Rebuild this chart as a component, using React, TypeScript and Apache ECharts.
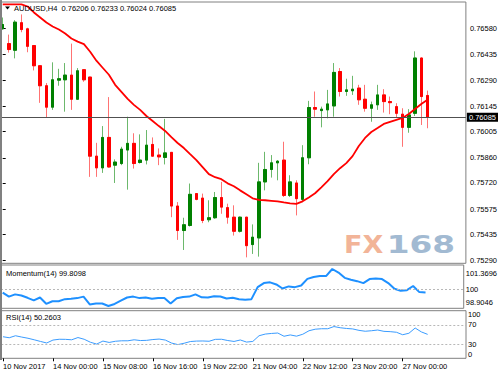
import React, { useEffect, useRef } from "react";
import * as echarts from "echarts";

const symbolName = "AUDUSD";
const timeframe = "H4";

const opens = [
  0.76576, 0.76494, 0.76457, 0.7661, 0.76576, 0.76483, 0.76371, 0.7626, 0.76141, 0.76291,
  0.76293, 0.76319, 0.76185, 0.76349, 0.76308, 0.75869, 0.75804, 0.75973, 0.75819, 0.75828,
  0.75903, 0.7594, 0.75834, 0.75847, 0.75934, 0.75875, 0.75862, 0.7589, 0.75592, 0.75456,
  0.75484, 0.75661, 0.75636, 0.75516, 0.75527, 0.75639, 0.75583, 0.7553, 0.75452, 0.7553,
  0.75378, 0.75415, 0.75726, 0.75795, 0.75832, 0.75847, 0.75651, 0.7572, 0.75629, 0.7586,
  0.76139, 0.76122, 0.76126, 0.76148, 0.76339, 0.76228, 0.76232, 0.76247, 0.76185, 0.76135,
  0.76154, 0.76209, 0.76172, 0.76144, 0.76102, 0.76029, 0.76107, 0.76414, 0.76206,
];
const highs = [
  0.76639, 0.76544, 0.76624, 0.76656, 0.76582, 0.76486, 0.76374, 0.76275, 0.7639, 0.76354,
  0.76386, 0.76494, 0.76358, 0.76352, 0.7631, 0.75943, 0.76036, 0.76197, 0.75851, 0.75921,
  0.76088, 0.75996, 0.7599, 0.76014, 0.75973, 0.75912, 0.76076, 0.75892, 0.75614, 0.75527,
  0.75717, 0.75664, 0.75661, 0.75624, 0.7567, 0.75726, 0.75605, 0.75596, 0.75534, 0.75532,
  0.7549, 0.75832, 0.75893, 0.75875, 0.75847, 0.75949, 0.75763, 0.75735, 0.7593, 0.76176,
  0.76228, 0.76144, 0.76237, 0.76386, 0.76358, 0.76299, 0.76315, 0.76265, 0.76265, 0.76172,
  0.76265, 0.76241, 0.762, 0.76163, 0.76135, 0.7613, 0.76451, 0.76416, 0.76233,
];
const lows = [
  0.76572, 0.76444, 0.76412, 0.76557, 0.76446, 0.76345, 0.76165, 0.76085, 0.76126, 0.7626,
  0.76116, 0.76126, 0.76182, 0.76282, 0.75754, 0.75754, 0.75776, 0.75805, 0.7572, 0.75819,
  0.75683, 0.758, 0.75828, 0.75823, 0.75865, 0.75819, 0.75823, 0.7553, 0.75404, 0.75348,
  0.75478, 0.75624, 0.75497, 0.75502, 0.75521, 0.75549, 0.75494, 0.75428, 0.75445, 0.75307,
  0.75326, 0.75311, 0.75679, 0.7575, 0.75735, 0.75642, 0.75642, 0.7554, 0.75614, 0.75824,
  0.76088, 0.76029, 0.76079, 0.76088, 0.762, 0.76204, 0.76209, 0.76154, 0.76116, 0.7606,
  0.76126, 0.76111, 0.76102, 0.76085, 0.75921, 0.75999, 0.76092, 0.76042, 0.76024,
];
const closes = [
  0.766, 0.76461, 0.76613, 0.76572, 0.76479, 0.76371, 0.7626, 0.76141, 0.76293, 0.76299,
  0.76319, 0.76185, 0.76343, 0.76293, 0.75869, 0.75804, 0.75973, 0.75809, 0.75836, 0.75908,
  0.7594, 0.75828, 0.75847, 0.7593, 0.75869, 0.75865, 0.75887, 0.75592, 0.75456, 0.75488,
  0.75657, 0.75629, 0.75512, 0.75527, 0.75639, 0.75586, 0.7553, 0.75452, 0.7553, 0.75372,
  0.75419, 0.75726, 0.75795, 0.75832, 0.75841, 0.75651, 0.75726, 0.75633, 0.7586, 0.76139,
  0.7613, 0.7613, 0.76159, 0.76334, 0.76228, 0.76237, 0.76241, 0.76182, 0.76135, 0.76154,
  0.76209, 0.76172, 0.76166, 0.76107, 0.76029, 0.76098, 0.76414, 0.762, 0.76085,
];
const movingAverage = [
  0.76712, 0.76712, 0.76712, 0.76712, 0.767, 0.76667, 0.76639, 0.76611, 0.76589, 0.76572,
  0.7655, 0.76522, 0.76505, 0.76491, 0.76449, 0.76399, 0.7636, 0.76321, 0.76265, 0.76226,
  0.76187, 0.76154, 0.76126, 0.76092, 0.76064, 0.76036, 0.76009, 0.75975, 0.75942, 0.75914,
  0.7588, 0.75847, 0.75808, 0.75769, 0.75752, 0.75741, 0.75718, 0.75702, 0.75679, 0.75657,
  0.75635, 0.75626, 0.75624, 0.75621, 0.75618, 0.75612, 0.75607, 0.75604, 0.75618, 0.7564,
  0.75663, 0.75696, 0.7573, 0.75769, 0.75802, 0.7583, 0.75869, 0.75925, 0.7597, 0.76003,
  0.76025, 0.76048, 0.76059, 0.7607, 0.76081, 0.76103, 0.76131, 0.76159, 0.76182,
];
const momentum = [
  99.8, 99.53, 99.68, 99.6, 99.45, 99.28, 99.47, 99.05, 99.22, 99.22,
  99.36, 99.39, 99.43, 99.53, 99.01, 99.07, 99.07, 98.9046, 99.04, 99.26,
  99.47, 99.53, 99.43, 99.47, 99.39, 99.43, 99.43, 99.07, 99.42, 99.51,
  99.53, 99.68, 99.48, 99.47, 99.56, 99.54, 99.4, 99.45, 99.36, 99.32,
  99.36, 100.16, 100.43, 100.48, 100.34, 100.07, 100.21, 100.16, 100.27, 100.71,
  100.84, 100.9, 100.9, 101.3696, 101.13, 100.78, 100.65, 100.56, 100.43, 100.7,
  100.73, 100.7, 100.43, 100.05, 99.92, 99.96, 100.24, 99.83, 99.8098,
];
const rsi = [
  45.3, 43.2, 47.4, 44.6, 42.1, 38.9, 35.4, 32.2, 38.3, 40.0,
  39.8, 38.9, 43.6, 40.0, 33.7, 29.9, 36.2, 33.3, 35.8, 36.8,
  36.8, 38.9, 37.3, 37.7, 39.4, 40.4, 38.3, 32.0, 28.8, 31.6,
  35.2, 36.2, 36.4, 35.8, 39.8, 40.0, 37.3, 35.4, 38.5, 34.1,
  35.4, 47.4, 50.9, 52.2, 53.1, 46.3, 49.1, 46.5, 50.5, 57.9,
  61.1, 62.1, 62.1, 66.7, 64.2, 62.7, 61.7, 58.7, 56.8, 57.9,
  59.4, 56.6, 56.0, 54.7, 49.5, 52.6, 63.6, 55.4, 50.2603,
];

const priceTicks = [0.7529, 0.75435, 0.75575, 0.7572, 0.7586, 0.76005, 0.76145, 0.7629, 0.76435, 0.7658];
const xTickIndex = [0, 8, 16, 24, 32, 40, 48, 56, 64];
const xTickLabels = [
  "10 Nov 2017", "14 Nov 00:00", "15 Nov 08:00", "16 Nov 16:00", "19 Nov 22:00",
  "21 Nov 04:00", "22 Nov 12:00", "23 Nov 20:00", "27 Nov 00:00",
];
const momentumLevel = 100;
const rsiLevels = [30, 70];
const rsiBounds = [0, 100];

const FONT = "'Liberation Sans', Arial, sans-serif";
const FS = 7.5;

export default function App() {
  const ref = useRef<HTMLDivElement>(null);

  useEffect(() => {
    if (!ref.current) return;
    const chart = echarts.init(ref.current, undefined, { renderer: "svg" });

    const n = closes.length;
    const last = n - 1;
    const X_MIN = -0.272;
    const X_MAX = 74.14;

    const momMax = Math.max(...momentum);
    const momMin = Math.min(...momentum);
    const momPerPx = (momMax - momMin) / 37;
    const MOM_AXIS_MAX = momMax + 4 * momPerPx;
    const MOM_AXIS_MIN = momMin - 2.3 * momPerPx;

    const wickData = opens.map((o, i) => [i, o, closes[i], lows[i], highs[i]]);
    const bodyData = opens.map((o, i) => [
      i,
      o,
      closes[i],
      Math.min(o, closes[i]),
      Math.max(o, closes[i]),
    ]);

    const gridBase = { left: 1, width: 465, show: true, borderColor: "#808080", borderWidth: 1, backgroundColor: "transparent" };

    const hiddenX = (gi: number) => ({
      type: "value",
      gridIndex: gi,
      min: X_MIN,
      max: X_MAX,
      show: false,
      splitLine: { show: false },
    });

    const sideAxis = (
      gi: number,
      min: number,
      max: number,
      values: number[],
      fmt: (v: number) => string,
      vAlign: string,
      margin: number
    ) => ({
      type: "value",
      gridIndex: gi,
      position: "right",
      min,
      max,
      splitLine: { show: false },
      axisLine: { show: false },
      axisTick: { show: false },
      axisLabel: {
        customValues: values,
        formatter: (v: number) => fmt(v),
        fontSize: FS,
        fontFamily: FONT,
        color: "#000",
        margin,
        verticalAlign: vAlign,
      },
    });

    const option: any = {
      animation: false,
      backgroundColor: "#ffffff",
      grid: [
        { ...gridBase, top: 2, height: 261.3 },
        { ...gridBase, top: 265, height: 43.3 },
        { ...gridBase, top: 310.7, height: 47.6 },
      ],
      xAxis: [
        hiddenX(0),
        hiddenX(1),
        {
          type: "value",
          gridIndex: 2,
          min: X_MIN,
          max: X_MAX,
          position: "bottom",
          splitLine: { show: false },
          axisLine: { show: false },
          axisTick: {
            show: true,
            customValues: xTickIndex,
            length: 3,
            lineStyle: { color: "#000", width: 1 },
          },
          axisLabel: {
            customValues: xTickIndex,
            formatter: (v: number) => xTickLabels[xTickIndex.indexOf(Math.round(v))] ?? "",
            align: "left",
            fontSize: FS,
            fontFamily: FONT,
            color: "#000",
            margin: 4,
          },
        },
      ],
      yAxis: [
        {
          type: "value",
          gridIndex: 0,
          position: "right",
          min: 0.75274,
          max: 0.76725,
          splitLine: { show: false },
          axisLine: { show: false },
          axisTick: {
            show: true,
            customValues: priceTicks,
            length: 3,
            lineStyle: { color: "#000", width: 1 },
          },
          axisLabel: {
            customValues: priceTicks,
            formatter: (v: number) => v.toFixed(5),
            fontSize: FS,
            fontFamily: FONT,
            color: "#000",
            margin: 4,
          },
        },
        sideAxis(1, MOM_AXIS_MIN, MOM_AXIS_MAX, [momentumLevel], (v) => String(v), "middle", 2),
        sideAxis(1, MOM_AXIS_MIN, MOM_AXIS_MAX, [momMax], (v) => v.toFixed(4), "top", 2),
        sideAxis(1, MOM_AXIS_MIN, MOM_AXIS_MAX, [momMin], (v) => v.toFixed(4), "bottom", 2),
        sideAxis(2, rsiBounds[0], rsiBounds[1], rsiLevels, (v) => String(v), "middle", 2),
        sideAxis(2, rsiBounds[0], rsiBounds[1], [rsiBounds[1]], (v) => String(v), "top", 2),
        sideAxis(2, rsiBounds[0], rsiBounds[1], [rsiBounds[0]], (v) => String(v), "bottom", 2),
      ],
      series: [
        {
          name: "wicks",
          type: "candlestick",
          xAxisIndex: 0,
          yAxisIndex: 0,
          layout: "horizontal",
          barWidth: 3,
          data: wickData,
          itemStyle: {
            color: "#6cb86c",
            color0: "#ff7373",
            borderColor: "#6cb86c",
            borderColor0: "#ff7373",
            borderWidth: 1,
          },
          markLine: {
            silent: true,
            precision: 5,
            symbol: ["none", "none"],
            data: [{ yAxis: closes[last] }],
            lineStyle: { color: "#505050", width: 1, type: "solid" },
            label: {
              show: true,
              position: "end",
              distance: 1,
              formatter: () => closes[last].toFixed(5),
              color: "#ffffff",
              backgroundColor: "#000000",
              fontSize: FS,
              fontFamily: FONT,
              lineHeight: 9,
              padding: [0, 2, 0, 2],
            },
          },
        },
        {
          name: "bodies",
          type: "candlestick",
          xAxisIndex: 0,
          yAxisIndex: 0,
          layout: "horizontal",
          barWidth: 3,
          data: bodyData,
          itemStyle: {
            color: "#008000",
            color0: "#ff0000",
            borderColor: "#008000",
            borderColor0: "#ff0000",
            borderWidth: 1,
          },
        },
        {
          name: "MA",
          type: "line",
          xAxisIndex: 0,
          yAxisIndex: 0,
          data: movingAverage.map((v, i) => [i, v]),
          symbol: "none",
          showSymbol: false,
          lineStyle: { color: "#ff0000", width: 1.8 },
          z: 3,
        },
        {
          name: "Momentum(14)",
          type: "line",
          xAxisIndex: 1,
          yAxisIndex: 1,
          data: momentum.map((v, i) => [i, v]),
          symbol: "none",
          showSymbol: false,
          lineStyle: { color: "#1e90ff", width: 2 },
          markLine: {
            silent: true,
            precision: 4,
            symbol: ["none", "none"],
            data: [{ yAxis: momentumLevel }],
            lineStyle: { color: "#b8b8b8", width: 1, type: [2, 2] },
            label: { show: false },
          },
        },
        {
          name: "RSI(14)",
          type: "line",
          xAxisIndex: 2,
          yAxisIndex: 4,
          data: rsi.map((v, i) => [i, v]),
          symbol: "none",
          showSymbol: false,
          lineStyle: { color: "#3a9cff", width: 1 },
          markLine: {
            silent: true,
            precision: 4,
            symbol: ["none", "none"],
            data: rsiLevels.map((l) => ({ yAxis: l })),
            lineStyle: { color: "#b8b8b8", width: 1, type: [2, 2] },
            label: { show: false },
          },
        },
      ],
      graphic: [
        {
          type: "rect",
          shape: { x: 0, y: 0, width: 2, height: 360 },
          style: { fill: "#808080" },
          z: 10,
        },
        {
          type: "polygon",
          shape: { points: [[5, 6.5], [10, 6.5], [7.5, 9.5]] },
          style: { fill: "#000" },
          z: 10,
        },
        {
          type: "text",
          x: 14,
          y: 8,
          z: 10,
          style: {
            text: `${symbolName},${timeframe}  ${opens[last].toFixed(5)} ${highs[last].toFixed(5)} ${lows[last].toFixed(5)} ${closes[last].toFixed(5)}`,
            fontSize: FS,
            fontFamily: FONT,
            fill: "#000",
            verticalAlign: "middle",
          },
        },
        {
          type: "text",
          x: 6,
          y: 273,
          z: 10,
          style: {
            text: `Momentum(14) ${momentum[last].toFixed(4)}`,
            fontSize: FS,
            fontFamily: FONT,
            fill: "#000",
            verticalAlign: "middle",
          },
        },
        {
          type: "text",
          x: 6,
          y: 317.5,
          z: 10,
          style: {
            text: `RSI(14) ${rsi[last].toFixed(4)}`,
            fontSize: FS,
            fontFamily: FONT,
            fill: "#000",
            verticalAlign: "middle",
          },
        },
        {
          type: "text",
          x: 344,
          y: 244.2,
          scaleX: 1.08,
          z: 1,
          style: {
            text: "FX",
            fontSize: 25,
            fontWeight: "bold",
            fontFamily: "'DejaVu Sans', sans-serif",
            fill: "#f2b498",
            verticalAlign: "middle",
          },
        },
        {
          type: "text",
          x: 386.7,
          y: 244.2,
          scaleX: 1.31,
          z: 1,
          style: {
            text: "168",
            fontSize: 25,
            fontWeight: "bold",
            fontFamily: "'DejaVu Sans', sans-serif",
            fill: "#a2bad2",
            verticalAlign: "middle",
          },
        },
      ],
    };

    chart.setOption(option);
    return () => chart.dispose();
  }, []);

  return (
    <div
      ref={ref}
      style={{ position: "fixed", left: 0, top: 0, width: 500, height: 375, background: "#fff" }}
    />
  );
}
